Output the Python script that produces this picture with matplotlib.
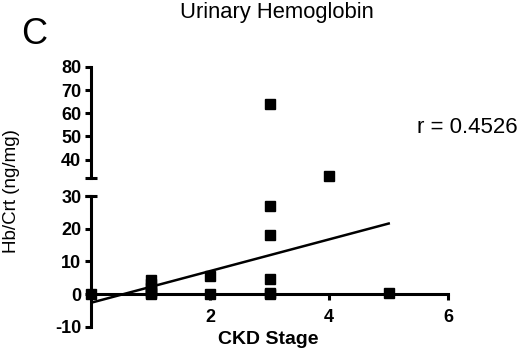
import matplotlib
matplotlib.use("Agg")
import matplotlib.pyplot as plt

plt.rcParams['font.family'] = ['Liberation Sans', 'DejaVu Sans']
plt.rcParams['axes.unicode_minus'] = False

# Data
stage = [0, 1, 1, 1, 1, 1, 1, 2, 2, 3, 3, 3, 3, 3, 3, 4, 5]
hb_crt = [0, 0, 0.3, 1, 2, 3, 4.3, 0, 5.5, 0, 0.5, 4.8, 18, 27, 64, 33, 0.5]
fit_x = [0, 5]
fit_y = [-2.6, 21.6]
x_ticks = [2, 4, 6]
y_ticks_bottom = [-10, 0, 10, 20, 30]
y_ticks_top = [40, 50, 60, 70, 80]
r_label = "r = 0.4526"
title = "Urinary Hemoglobin"
panel = "C"
x_label = "CKD Stage"
y_label = "Hb/Crt (ng/mg)"

BREAK = 31
lw = 2.2
TICK_FS = 13

fig = plt.figure(figsize=(5.2, 3.54), dpi=100)
ax_bot = fig.add_axes([0.175, 0.0763, 0.687, 0.370])
ax_top = fig.add_axes([0.175, 0.497, 0.687, 0.314])

bx = [x for x, y in zip(stage, hb_crt) if y < BREAK]
by = [y for x, y in zip(stage, hb_crt) if y < BREAK]
tx = [x for x, y in zip(stage, hb_crt) if y >= BREAK]
ty = [y for x, y in zip(stage, hb_crt) if y >= BREAK]

for ax in (ax_bot, ax_top):
    ax.set_xlim(0, 6)
    ax.patch.set_alpha(0)
    for s in ('top', 'right'):
        ax.spines[s].set_visible(False)
    ax.spines['left'].set_linewidth(lw)
    ax.tick_params(axis='y', direction='out', length=4.5, width=lw, labelsize=TICK_FS, pad=2.5)

# bottom axes
ax_bot.set_ylim(-10, 30)
ax_bot.spines['bottom'].set_position(('data', 0))
ax_bot.spines['bottom'].set_linewidth(lw)
ax_bot.set_xticks(x_ticks)
ax_bot.set_yticks(y_ticks_bottom)
ax_bot.tick_params(axis='x', direction='out', length=4.5, width=lw, labelsize=TICK_FS, pad=6)
ax_bot.set_xticklabels([str(v) for v in x_ticks], fontweight='bold')
ax_bot.set_yticklabels([str(v) for v in y_ticks_bottom], fontweight='bold')
ax_bot.plot(fit_x, fit_y, color='black', lw=1.8, zorder=3)
ax_bot.plot(bx, by, 's', color='black', markersize=7.2, zorder=4, clip_on=False)
ax_bot.plot([0], [30], marker='_', color='black', markersize=9, mew=lw, clip_on=False)

# top axes
ax_top.set_ylim(32, 80)
ax_top.spines['bottom'].set_visible(False)
ax_top.set_xticks([])
ax_top.set_yticks(y_ticks_top)
ax_top.set_yticklabels([str(v) for v in y_ticks_top], fontweight='bold')
ax_top.plot(tx, ty, 's', color='black', markersize=7.2, zorder=4, clip_on=False)
ax_top.plot([0], [32], marker='_', color='black', markersize=9, mew=lw, clip_on=False)

# texts
fig.text(0.532, 0.966, title, ha='center', va='center', fontsize=15.8)
fig.text(0.065, 0.902, panel, ha='center', va='center', fontsize=26)
fig.text(0.802, 0.641, r_label, ha='left', va='center', fontsize=16)
fig.text(0.022, 0.460, y_label, ha='center', va='center', rotation=90, fontsize=13.5)
fig.text(0.515, 0.040, x_label, ha='center', va='center', fontsize=14, fontweight='bold')

fig.savefig("out.png", dpi=100)
